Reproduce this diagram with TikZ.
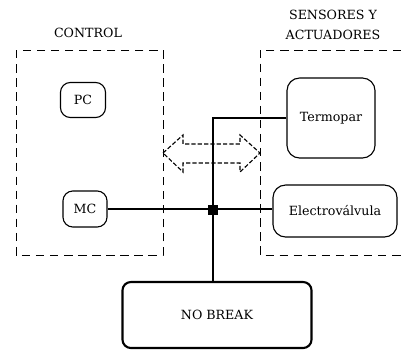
\documentclass[tikz,border=0pt]{standalone}
\usepackage{fontspec}
\setmainfont{DejaVu Serif}
\newfontfamily\diagfont{DejaVu Serif}
\usetikzlibrary{positioning, calc}
\definecolor{mInk}{HTML}{000000}
\definecolor{mBg}{HTML}{FFFFFF}

\tikzset{
  zone/.style={draw=mInk, line width=0.7pt, dash pattern=on 6pt off 4pt},
  unit/.style={draw=mInk, line width=0.8pt, rounded corners=7pt, fill=mBg, inner sep=2pt},
  bus/.style={draw=mInk, line width=1.5pt},
}

\begin{document}
\begin{tikzpicture}[x=0.025cm, y=-0.025cm,
  every node/.style={font=\diagfont\fontsize{9}{11}\selectfont, text=mInk},
]
  \useasboundingbox (0,0) rectangle (401,350);

  % Zones
  \draw[zone] (16,50) rectangle (163,255);
  \node (ctrlLabel) at (88,33) {CONTROL};
  \draw[zone] (401,50) -- (260,50) -- (260,255) -- (401,255);
  \node[align=center, font=\diagfont\fontsize{9}{14}\selectfont] (sensLabel) at (333,25) {SENSORES Y\\ACTUADORES};

  % Units
  \node[unit, minimum width=1.125cm, minimum height=0.875cm] (pc) at (83,100) {PC};
  \node[unit, minimum width=1.1cm, minimum height=0.9cm] (mc) at (85,209) {MC};
  \node[unit, rounded corners=9pt, minimum width=2.2cm, minimum height=2.0cm] (termo) at (331,118) {Termopar};
  \node[unit, rounded corners=9pt, minimum width=3.1cm, minimum height=1.3cm] (valve) at (335,211) {Electroválvula};
  \node[unit, line width=1.5pt, rounded corners=6pt, minimum width=4.725cm, minimum height=1.65cm] (ups) at (217,315) {NO BREAK};

  % Bus
  \coordinate (hub) at (213,210);
  \draw[bus] (mc.east) -- (valve.west |- mc.east);
  \draw[bus] (ups.north -| hub) -- (hub |- termo.west) -- (termo.west);
  \fill[mInk] ($(hub)+(-5,-5)$) rectangle ($(hub)+(5,5)$);

  % Link arrow
  \draw[mInk, line width=0.8pt, dash pattern=on 3pt off 1.5pt]
    (163,153) -- (183,135) -- (183,144) -- (240,144) -- (240,135) -- (260,153)
    -- (240,172) -- (240,163) -- (183,163) -- (183,172) -- cycle;
\end{tikzpicture}
\end{document}
